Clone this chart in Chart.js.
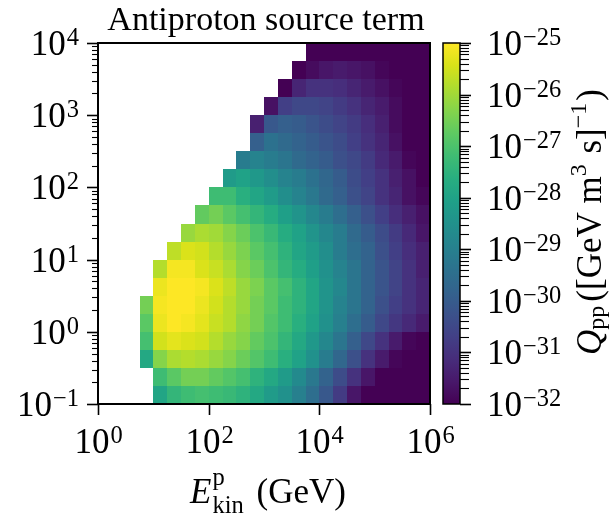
<!DOCTYPE html>
<html>
<head>
<meta charset="utf-8">
<script src="https://cdn.jsdelivr.net/npm/chart.js@4.4.1/dist/chart.umd.min.js"></script>
<style>
  html, body { margin: 0; padding: 0; background: #fff; }
</style>
</head>
<body>
<canvas id="ch" width="610" height="518"></canvas>
<script>
// log10 of proton kinetic energy (GeV), cell centres
var logEp = [0.125, 0.375, 0.625, 0.875, 1.125, 1.375, 1.625, 1.875, 2.125, 2.375, 2.625, 2.875,
             3.125, 3.375, 3.625, 3.875, 4.125, 4.375, 4.625, 4.875, 5.125, 5.375, 5.625, 5.875];
// log10 of antiproton energy (GeV), cell centres
var logEpbar = [-0.875, -0.625, -0.375, -0.125, 0.125, 0.375, 0.625, 0.875, 1.125, 1.375,
                1.625, 1.875, 2.125, 2.375, 2.625, 2.875, 3.125, 3.375, 3.625, 3.875];
// log10 Q_pp, one row per antiproton energy (null = kinematically forbidden)
var n = null;
var logQ = [
  [n,n,n,n,-27.9,-27.4,-27.2,-27.1,-27.2,-27.3,-27.5,-27.8,-28.2,-28.5,-29.0,-29.5,-30.1,-30.8,-31.6,-32.4,-33.2,-34.0,-34.8,-35.6],
  [n,n,n,n,-27.2,-26.8,-26.5,-26.5,-26.7,-26.9,-27.1,-27.5,-27.8,-28.2,-28.7,-29.2,-29.8,-30.4,-31.0,-31.6,-32.3,-33.0,-33.7,-34.4],
  [n,n,n,-27.8,-26.3,-25.9,-25.8,-25.9,-26.1,-26.3,-26.6,-26.9,-27.2,-27.6,-28.0,-28.5,-29.1,-29.7,-30.3,-31.0,-31.5,-31.9,-32.6,-33.3],
  [n,n,n,-27.1,-25.5,-25.3,-25.4,-25.5,-25.8,-26.1,-26.3,-26.7,-27.0,-27.4,-27.8,-28.3,-28.8,-29.3,-29.9,-30.5,-31.0,-31.5,-31.9,-32.3],
  [n,n,n,-26.8,-25.2,-25.0,-25.1,-25.3,-25.6,-25.8,-26.2,-26.5,-26.9,-27.2,-27.6,-28.0,-28.5,-29.0,-29.5,-30.0,-30.5,-30.9,-31.2,-31.5],
  [n,n,n,-26.5,-25.1,-25.0,-25.0,-25.2,-25.5,-25.8,-26.1,-26.5,-26.8,-27.2,-27.5,-27.9,-28.4,-28.9,-29.3,-29.8,-30.3,-30.7,-31.0,-31.3],
  [n,n,n,n,-25.2,-25.0,-25.0,-25.1,-25.4,-25.7,-26.1,-26.4,-26.8,-27.1,-27.5,-27.9,-28.4,-28.8,-29.3,-29.8,-30.2,-30.6,-31.0,-31.3],
  [n,n,n,n,-25.8,-25.1,-25.1,-25.4,-25.6,-25.9,-26.3,-26.6,-27.0,-27.4,-27.7,-28.1,-28.5,-28.9,-29.3,-29.8,-30.2,-30.6,-31.0,-31.4],
  [n,n,n,n,n,-25.7,-25.4,-25.5,-25.8,-26.1,-26.4,-26.8,-27.1,-27.5,-27.9,-28.2,-28.6,-29.1,-29.5,-29.8,-30.3,-30.7,-31.1,-31.4],
  [n,n,n,n,n,n,-26.1,-25.9,-26.0,-26.3,-26.6,-27.0,-27.3,-27.7,-28.0,-28.4,-28.8,-29.1,-29.6,-30.0,-30.4,-30.8,-31.2,-31.6],
  [n,n,n,n,n,n,n,-26.7,-26.5,-26.8,-27.1,-27.4,-27.7,-28.1,-28.4,-28.8,-29.1,-29.5,-29.9,-30.3,-30.7,-31.1,-31.4,-31.7],
  [n,n,n,n,n,n,n,n,-27.2,-27.2,-27.6,-27.9,-28.2,-28.6,-28.9,-29.2,-29.6,-29.9,-30.3,-30.6,-31.0,-31.3,-31.7,-31.9],
  [n,n,n,n,n,n,n,n,n,-28.2,-28.0,-28.3,-28.6,-28.9,-29.1,-29.4,-29.7,-30.0,-30.4,-30.7,-31.0,-31.4,-31.7,-32.0],
  [n,n,n,n,n,n,n,n,n,n,-29.1,-28.9,-29.1,-29.3,-29.6,-29.8,-30.0,-30.3,-30.5,-30.8,-31.2,-31.5,-31.9,-32.3],
  [n,n,n,n,n,n,n,n,n,n,n,-29.9,-29.4,-29.6,-29.8,-30.0,-30.2,-30.4,-30.7,-31.0,-31.3,-31.7,-32.0,-32.5],
  [n,n,n,n,n,n,n,n,n,n,n,-31.4,-30.1,-29.9,-30.0,-30.2,-30.4,-30.6,-30.8,-31.1,-31.4,-31.8,-32.3,-32.8],
  [n,n,n,n,n,n,n,n,n,n,n,n,-31.7,-30.7,-30.5,-30.5,-30.6,-30.8,-31.0,-31.3,-31.5,-31.8,-32.3,-32.8],
  [n,n,n,n,n,n,n,n,n,n,n,n,n,-32.1,-31.3,-31.0,-31.0,-31.1,-31.3,-31.5,-31.7,-31.9,-32.4,-32.9],
  [n,n,n,n,n,n,n,n,n,n,n,n,n,n,-32.4,-31.8,-31.6,-31.5,-31.6,-31.7,-31.9,-32.2,-32.6,-33.0],
  [n,n,n,n,n,n,n,n,n,n,n,n,n,n,n,-32.8,-32.4,-32.2,-32.1,-32.2,-32.4,-32.6,-32.9,-33.3]
];
// tick exponents
var xTickExp = [0, 2, 4, 6];
var yTickExp = [-1, 0, 1, 2, 3, 4];
var cbTickExp = [-32, -31, -30, -29, -28, -27, -26, -25];

var cellHalf = 0.125;   // half cell size in decades
var vMin = -32, vMax = -25;
var FONT = '"Liberation Serif", "DejaVu Serif", serif';

var viridisStops = ['#440154','#48186a','#472d7b','#424086','#3b528b','#33638d','#2c728e','#26828e',
  '#21918c','#1fa088','#28ae80','#3fbc73','#5ec962','#84d44b','#addc30','#d8e219','#fde725'];
var viridisRgb = viridisStops.map(function (h) {
  return [parseInt(h.substr(1, 2), 16), parseInt(h.substr(3, 2), 16), parseInt(h.substr(5, 2), 16)];
});
function viridis(v) {
  var t = (v - vMin) / (vMax - vMin);
  t = Math.max(0, Math.min(1, t));
  var s = t * (viridisRgb.length - 1), i = Math.min(Math.floor(s), viridisRgb.length - 2), f = s - i;
  var a = viridisRgb[i], b = viridisRgb[i + 1];
  return 'rgb(' + Math.round(a[0] + (b[0] - a[0]) * f) + ',' + Math.round(a[1] + (b[1] - a[1]) * f) + ',' +
    Math.round(a[2] + (b[2] - a[2]) * f) + ')';
}

// cells as points
var cells = [];
logEpbar.forEach(function (ly, r) {
  logEp.forEach(function (lx, c) {
    var v = logQ[r][c];
    if (v !== null) cells.push({ x: Math.pow(10, lx), y: Math.pow(10, ly), v: v });
  });
});

function powLabel(ctx, exp, x, y, align) {
  var e = exp < 0 ? '\u2212' + (-exp) : String(exp);
  ctx.font = '35px ' + FONT;
  var wb = ctx.measureText('10').width;
  ctx.font = '24.5px ' + FONT;
  var we = ctx.measureText(e).width;
  var w = wb + 1 + we;
  var x0 = align === 'right' ? x - w : (align === 'center' ? x - w / 2 : x);
  ctx.textAlign = 'left';
  ctx.textBaseline = 'alphabetic';
  ctx.font = '35px ' + FONT;
  ctx.fillText('10', x0, y);
  ctx.font = '24.5px ' + FONT;
  ctx.fillText(e, x0 + wb + 1, y - 10);
}

var heatPlugin = {
  id: 'heat',
  beforeDatasetsDraw: function (chart) {
    var ctx = chart.ctx, xs = chart.scales.x, ys = chart.scales.y;
    var f = Math.pow(10, cellHalf);
    ctx.save();
    chart.data.datasets[0].data.forEach(function (p) {
      var x0 = Math.round(xs.getPixelForValue(p.x / f)), x1 = Math.round(xs.getPixelForValue(p.x * f));
      var y0 = Math.round(ys.getPixelForValue(p.y / f)), y1 = Math.round(ys.getPixelForValue(p.y * f));
      ctx.fillStyle = viridis(p.v);
      ctx.fillRect(x0, y1, x1 - x0, y0 - y1);
    });
    ctx.restore();
  }
};

var decorPlugin = {
  id: 'decor',
  afterDraw: function (chart) {
    var ctx = chart.ctx, a = chart.chartArea;
    var xs = chart.scales.x, ys = chart.scales.y, q = chart.scales.q, g = chart.scales.gap;
    ctx.save();
    ctx.fillStyle = '#000';
    ctx.strokeStyle = '#000';

    // frame
    ctx.lineWidth = 2;
    ctx.strokeRect(a.left, a.top, a.right - a.left, a.bottom - a.top);

    // y ticks
    for (var e = -1; e <= 4; e++) {
      for (var m = 1; m <= 9; m++) {
        if (e === 4 && m > 1) break;
        var py = Math.round(ys.getPixelForValue(m * Math.pow(10, e))) + 0.5;
        ctx.lineWidth = m === 1 ? 1.6 : 1.1;
        ctx.beginPath();
        ctx.moveTo(a.left, py);
        ctx.lineTo(a.left - (m === 1 ? 11 : 6), py);
        ctx.stroke();
      }
    }
    yTickExp.forEach(function (ex) {
      powLabel(ctx, ex, 79, ys.getPixelForValue(Math.pow(10, ex)) + 12, 'right');
    });

    // x ticks
    xTickExp.forEach(function (ex) {
      var px = Math.round(xs.getPixelForValue(Math.pow(10, ex))) + 0.5;
      ctx.lineWidth = 1.6;
      ctx.beginPath();
      ctx.moveTo(px, a.bottom);
      ctx.lineTo(px, a.bottom + 11);
      ctx.stroke();
      powLabel(ctx, ex, px, 453, 'center');
    });

    // colorbar
    var top = q.getPixelForValue(Math.pow(10, vMax)), bot = q.getPixelForValue(Math.pow(10, vMin));
    var bx1 = g.right, bx0 = g.right - 17;
    var grad = ctx.createLinearGradient(0, bot, 0, top);
    viridisStops.forEach(function (c, i) { grad.addColorStop(i / (viridisStops.length - 1), c); });
    ctx.fillStyle = grad;
    ctx.fillRect(bx0, top, bx1 - bx0, bot - top);
    ctx.lineWidth = 1.5;
    ctx.strokeRect(bx0, top, bx1 - bx0, bot - top);
    ctx.fillStyle = '#000';
    for (var ce = vMin; ce <= vMax; ce++) {
      for (var cm = 1; cm <= 9; cm++) {
        if (ce === vMax && cm > 1) break;
        var cy = Math.round(q.getPixelForValue(cm * Math.pow(10, ce))) + 0.5;
        ctx.lineWidth = cm === 1 ? 1.6 : 1.1;
        ctx.beginPath();
        ctx.moveTo(bx1, cy);
        ctx.lineTo(bx1 + (cm === 1 ? 11 : 9), cy);
        ctx.stroke();
      }
    }
    cbTickExp.forEach(function (ex) {
      powLabel(ctx, ex, 487, q.getPixelForValue(Math.pow(10, ex)) + 12, 'left');
    });

    // title
    ctx.textAlign = 'center';
    ctx.textBaseline = 'alphabetic';
    ctx.font = '34px ' + FONT;
    ctx.fillText('Antiproton source term', (a.left + a.right) / 2 + 2, 30);

    // x label: E^p_kin (GeV)
    ctx.textAlign = 'left';
    ctx.font = 'italic 35px ' + FONT;
    var wE = ctx.measureText('E').width;
    ctx.font = '24.5px ' + FONT;
    var wKin = ctx.measureText('kin').width;
    ctx.font = '35px ' + FONT;
    var wG = ctx.measureText(' (GeV)').width;
    var xl = 268 - (wE + 1 + wKin + wG + 4) / 2, bl = 503;
    ctx.font = 'italic 35px ' + FONT;
    ctx.fillText('E', xl, bl);
    ctx.font = '24.5px ' + FONT;
    ctx.fillText('p', xl + wE + 1, bl - 18);
    ctx.fillText('kin', xl + wE + 1, bl + 10);
    ctx.font = '35px ' + FONT;
    ctx.fillText(' (GeV)', xl + wE + 1 + wKin + 4, bl);

    // colorbar label: Q_pp([GeV m^3 s]^-1), rotated
    var parts = [
      { t: 'Q', f: 'italic 35px ', dy: 0 },
      { t: 'pp', f: '24px ', dy: 3 },
      { t: '([GeV m', f: '35px ', dy: 0 },
      { t: '3', f: '24px ', dy: -15 },
      { t: ' s]', f: '35px ', dy: 0 },
      { t: '\u22121', f: '24px ', dy: -15 },
      { t: ')', f: '35px ', dy: 0 }
    ];
    var tot = 0;
    parts.forEach(function (p) { ctx.font = p.f + FONT; p.w = ctx.measureText(p.t).width; tot += p.w; });
    tot += 8;
    ctx.translate(601, 222);
    ctx.rotate(-Math.PI / 2);
    var lx = -tot / 2;
    parts.forEach(function (p, i) {
      ctx.font = p.f + FONT;
      ctx.fillText(p.t, lx, p.dy);
      lx += p.w + (i === 1 ? 4 : 0) + (i === 3 || i === 5 ? 2 : 0);
    });
    ctx.restore();
  }
};

new Chart(document.getElementById('ch').getContext('2d'), {
  type: 'scatter',
  data: {
    datasets: [{
      label: 'Q_pp',
      data: cells,
      pointRadius: 0,
      pointHoverRadius: 0,
      showLine: false
    }]
  },
  options: {
    responsive: false,
    animation: false,
    events: [],
    layout: { padding: { top: 43, left: 0, right: 0, bottom: 0 } },
    plugins: { legend: { display: false }, tooltip: { enabled: false }, title: { display: false } },
    scales: {
      x: {
        type: 'logarithmic', min: 1, max: 1e6, position: 'bottom',
        ticks: { display: false }, grid: { display: false }, border: { display: false },
        afterFit: function (s) { s.height = 114; }
      },
      y: {
        type: 'logarithmic', min: 0.1, max: 1e4, position: 'left',
        ticks: { display: false }, grid: { display: false }, border: { display: false },
        afterFit: function (s) { s.width = 98; }
      },
      gap: {
        type: 'linear', position: 'right', weight: 0,
        ticks: { display: false }, grid: { display: false }, border: { display: false },
        afterFit: function (s) { s.width = 30; }
      },
      q: {
        type: 'logarithmic', position: 'right', weight: 1, min: 1e-32, max: 1e-25,
        ticks: { display: false }, grid: { display: false }, border: { display: false },
        afterFit: function (s) { s.width = 150; }
      }
    }
  },
  plugins: [heatPlugin, decorPlugin]
});
</script>
</body>
</html>
